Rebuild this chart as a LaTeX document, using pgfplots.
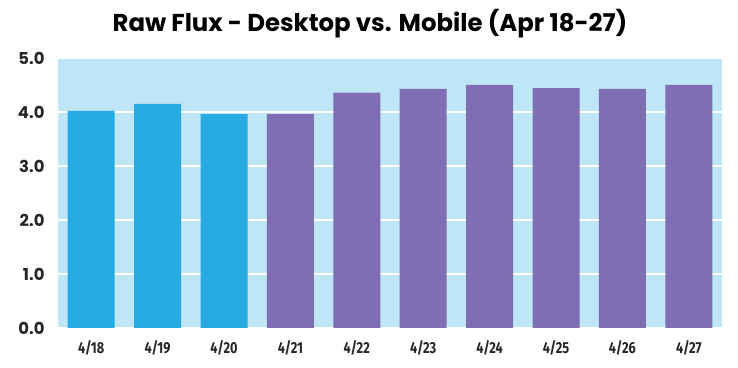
\documentclass[border=0pt]{standalone}
\usepackage{pgfplots}
\pgfplotsset{compat=1.18}
\usepackage{fontspec}
\setmainfont{Poppins}
\newfontfamily\labfont[FakeStretch=0.8]{Fira Sans}
\definecolor{bgblue}{HTML}{BEE6F6}
\definecolor{barblue}{HTML}{27A9E1}
\definecolor{barpurple}{HTML}{7F6EB4}
\begin{document}
\begin{tikzpicture}
\useasboundingbox (0,0) rectangle (738bp,368bp);
\begin{axis}[
  at={(58bp,40bp)}, anchor=south west,
  scale only axis, width=664bp, height=270bp,
  xmin=-0.5, xmax=9.5, ymin=0, ymax=5,
  ybar, bar width=47bp, bar shift=0pt,
  axis background/.style={fill=bgblue},
  axis line style={draw=none},
  ytick={0,1,2,3,4,5},
  /pgf/number format/fixed, /pgf/number format/fixed zerofill, /pgf/number format/precision=1, /pgf/number format/assume math mode=true,
  yticklabel style={font=\fontsize{16.5}{18}\selectfont\bfseries, text=black!85, xshift=-10bp},
  xtick={0,...,9},
  xticklabels={4/18,4/19,4/20,4/21,4/22,4/23,4/24,4/25,4/26,4/27},
  xticklabel style={font=\labfont\fontsize{16}{18}\selectfont\bfseries, text=black!85, yshift=-9bp},
  major tick length=0pt,
  ymajorgrids, grid style={white, line width=1.2pt},
]
\addplot[fill=barblue, draw=none] coordinates {(0,4.02) (1,4.15) (2,3.96)};
\addplot[fill=barpurple, draw=none] coordinates {(3,3.96) (4,4.36) (5,4.43) (6,4.50) (7,4.44) (8,4.43) (9,4.50)};
\draw[black!45, line width=1pt] (axis cs:-0.5,0) -- (axis cs:9.5,0);
\end{axis}
\node[font=\fontsize{24.5}{28}\selectfont\bfseries, text=black] at (370bp,344bp) {Raw Flux - Desktop vs. Mobile (Apr 18-27)};
\end{tikzpicture}
\end{document}
